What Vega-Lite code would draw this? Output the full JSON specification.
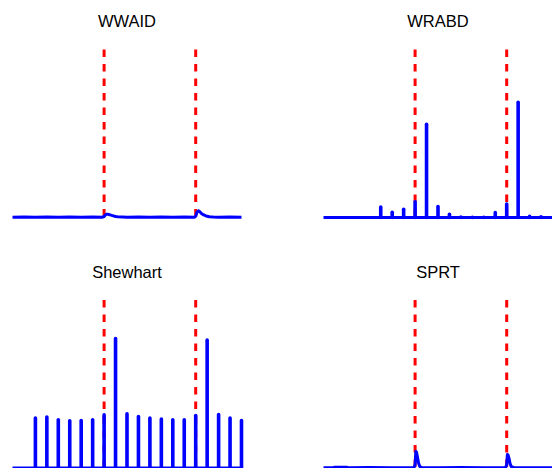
{
  "$schema": "https://vega.github.io/schema/vega-lite/v6.json",
  "padding": {"left": 6.5, "top": 13.5, "right": 0, "bottom": 0},
  "background": "white",
  "config": {
    "view": {"stroke": null},
    "font": "Liberation Sans",
    "title": {"fontSize": 16.5, "fontWeight": "normal", "color": "#000000", "offset": 17.5}
  },
  "datasets": {
    "events": [{"t": 0.4}, {"t": 0.8}],
    "baseline": [{"x": 0, "v": 0}, {"x": 1, "v": 0}],
    "wwaid": [
      {"x": 0, "v": 0.002}, {"x": 0.05, "v": 0.003}, {"x": 0.1, "v": 0.002}, {"x": 0.15, "v": 0.003},
      {"x": 0.2, "v": 0.002}, {"x": 0.25, "v": 0.003}, {"x": 0.3, "v": 0.002}, {"x": 0.35, "v": 0.003},
      {"x": 0.393, "v": 0.002}, {"x": 0.4, "v": 0.006}, {"x": 0.405, "v": 0.015}, {"x": 0.41, "v": 0.019},
      {"x": 0.415, "v": 0.02}, {"x": 0.42, "v": 0.018}, {"x": 0.43, "v": 0.014}, {"x": 0.44, "v": 0.01},
      {"x": 0.45, "v": 0.006}, {"x": 0.46, "v": 0.004}, {"x": 0.48, "v": 0.003}, {"x": 0.5, "v": 0.002},
      {"x": 0.55, "v": 0.003}, {"x": 0.6, "v": 0.002}, {"x": 0.65, "v": 0.003}, {"x": 0.7, "v": 0.002},
      {"x": 0.75, "v": 0.003}, {"x": 0.795, "v": 0.002}, {"x": 0.8, "v": 0.008}, {"x": 0.806, "v": 0.032},
      {"x": 0.812, "v": 0.04}, {"x": 0.818, "v": 0.034}, {"x": 0.825, "v": 0.024}, {"x": 0.835, "v": 0.015},
      {"x": 0.845, "v": 0.009}, {"x": 0.86, "v": 0.005}, {"x": 0.877, "v": 0.003}, {"x": 0.9, "v": 0.002},
      {"x": 0.95, "v": 0.003}, {"x": 1, "v": 0.002}
    ],
    "wrabd": [
      {"x": 0.25, "v": 0.062}, {"x": 0.3, "v": 0.031}, {"x": 0.35, "v": 0.049}, {"x": 0.4, "v": 0.094},
      {"x": 0.45, "v": 0.555}, {"x": 0.5, "v": 0.065}, {"x": 0.55, "v": 0.019}, {"x": 0.6, "v": 0.002},
      {"x": 0.65, "v": 0.001}, {"x": 0.7, "v": 0.001}, {"x": 0.75, "v": 0.029}, {"x": 0.8, "v": 0.08},
      {"x": 0.85, "v": 0.686}, {"x": 0.9, "v": 0.007}, {"x": 0.95, "v": 0.004}
    ],
    "shewhart": [
      {"x": 0.1, "v": 0.297}, {"x": 0.15, "v": 0.303}, {"x": 0.2, "v": 0.287}, {"x": 0.25, "v": 0.281},
      {"x": 0.3, "v": 0.283}, {"x": 0.35, "v": 0.287}, {"x": 0.4, "v": 0.316}, {"x": 0.45, "v": 0.771},
      {"x": 0.5, "v": 0.322}, {"x": 0.55, "v": 0.306}, {"x": 0.6, "v": 0.297}, {"x": 0.65, "v": 0.291},
      {"x": 0.7, "v": 0.287}, {"x": 0.75, "v": 0.287}, {"x": 0.8, "v": 0.312}, {"x": 0.85, "v": 0.761},
      {"x": 0.9, "v": 0.318}, {"x": 0.95, "v": 0.297}, {"x": 1, "v": 0.283}
    ],
    "sprt": [
      {"x": 0, "v": 0.002}, {"x": 0.04, "v": 0.002}, {"x": 0.05, "v": 0.005}, {"x": 0.1, "v": 0.005},
      {"x": 0.11, "v": 0.002}, {"x": 0.2, "v": 0.003}, {"x": 0.3, "v": 0.002}, {"x": 0.395, "v": 0.002},
      {"x": 0.4, "v": 0.02}, {"x": 0.403, "v": 0.098}, {"x": 0.406, "v": 0.095}, {"x": 0.41, "v": 0.068},
      {"x": 0.415, "v": 0.03}, {"x": 0.42, "v": 0.01}, {"x": 0.43, "v": 0.003}, {"x": 0.5, "v": 0.002},
      {"x": 0.6, "v": 0.003}, {"x": 0.7, "v": 0.002}, {"x": 0.795, "v": 0.002}, {"x": 0.8, "v": 0.02},
      {"x": 0.803, "v": 0.08}, {"x": 0.806, "v": 0.077}, {"x": 0.81, "v": 0.058}, {"x": 0.815, "v": 0.025},
      {"x": 0.82, "v": 0.008}, {"x": 0.83, "v": 0.003}, {"x": 0.9, "v": 0.002}, {"x": 1, "v": 0.002}
    ]
  },
  "columns": 2,
  "bounds": "flush",
  "spacing": {"row": 82.5, "column": 82},
  "concat": [
    {
      "title": "WWAID", "width": 229, "height": 168,
      "layer": [
        {"data": {"name": "events"}, "mark": {"type": "rule", "color": "#ff0000", "strokeWidth": 3, "strokeDash": [7.5, 7]},
         "encoding": {"x": {"field": "t", "type": "quantitative", "scale": {"domain": [0, 1]}, "axis": null}}},
        {"data": {"name": "wwaid"}, "mark": {"type": "line", "color": "#0000ff", "strokeWidth": 3, "strokeJoin": "round"},
         "encoding": {"x": {"field": "x", "type": "quantitative", "scale": {"domain": [0, 1]}, "axis": null},
                      "y": {"field": "v", "type": "quantitative", "scale": {"domain": [0, 1]}, "axis": null}}}
      ]
    },
    {
      "title": "WRABD", "width": 229, "height": 168,
      "layer": [
        {"data": {"name": "events"}, "mark": {"type": "rule", "color": "#ff0000", "strokeWidth": 3, "strokeDash": [7.5, 7]},
         "encoding": {"x": {"field": "t", "type": "quantitative", "scale": {"domain": [0, 1]}, "axis": null}}},
        {"data": {"name": "baseline"}, "mark": {"type": "line", "color": "#0000ff", "strokeWidth": 3},
         "encoding": {"x": {"field": "x", "type": "quantitative", "scale": {"domain": [0, 1]}, "axis": null},
                      "y": {"field": "v", "type": "quantitative", "scale": {"domain": [0, 1]}, "axis": null}}},
        {"data": {"name": "wrabd"}, "mark": {"type": "rule", "color": "#0000ff", "strokeWidth": 3.6, "strokeCap": "round"},
         "encoding": {"x": {"field": "x", "type": "quantitative", "scale": {"domain": [0, 1]}, "axis": null},
                      "y": {"field": "v", "type": "quantitative", "scale": {"domain": [0, 1]}, "axis": null},
                      "y2": {"datum": 0}}}
      ]
    },
    {
      "title": "Shewhart", "width": 229, "height": 168,
      "layer": [
        {"data": {"name": "events"}, "mark": {"type": "rule", "color": "#ff0000", "strokeWidth": 3, "strokeDash": [7.5, 7]},
         "encoding": {"x": {"field": "t", "type": "quantitative", "scale": {"domain": [0, 1]}, "axis": null}}},
        {"data": {"name": "baseline"}, "mark": {"type": "line", "color": "#0000ff", "strokeWidth": 3},
         "encoding": {"x": {"field": "x", "type": "quantitative", "scale": {"domain": [0, 1]}, "axis": null},
                      "y": {"field": "v", "type": "quantitative", "scale": {"domain": [0, 1]}, "axis": null}}},
        {"data": {"name": "shewhart"}, "mark": {"type": "rule", "color": "#0000ff", "strokeWidth": 3.6, "strokeCap": "round"},
         "encoding": {"x": {"field": "x", "type": "quantitative", "scale": {"domain": [0, 1]}, "axis": null},
                      "y": {"field": "v", "type": "quantitative", "scale": {"domain": [0, 1]}, "axis": null},
                      "y2": {"datum": 0}}}
      ]
    },
    {
      "title": "SPRT", "width": 229, "height": 168,
      "layer": [
        {"data": {"name": "events"}, "mark": {"type": "rule", "color": "#ff0000", "strokeWidth": 3, "strokeDash": [7.5, 7]},
         "encoding": {"x": {"field": "t", "type": "quantitative", "scale": {"domain": [0, 1]}, "axis": null}}},
        {"data": {"name": "sprt"}, "mark": {"type": "line", "color": "#0000ff", "strokeWidth": 3, "strokeJoin": "round"},
         "encoding": {"x": {"field": "x", "type": "quantitative", "scale": {"domain": [0, 1]}, "axis": null},
                      "y": {"field": "v", "type": "quantitative", "scale": {"domain": [0, 1]}, "axis": null}}}
      ]
    }
  ]
}
